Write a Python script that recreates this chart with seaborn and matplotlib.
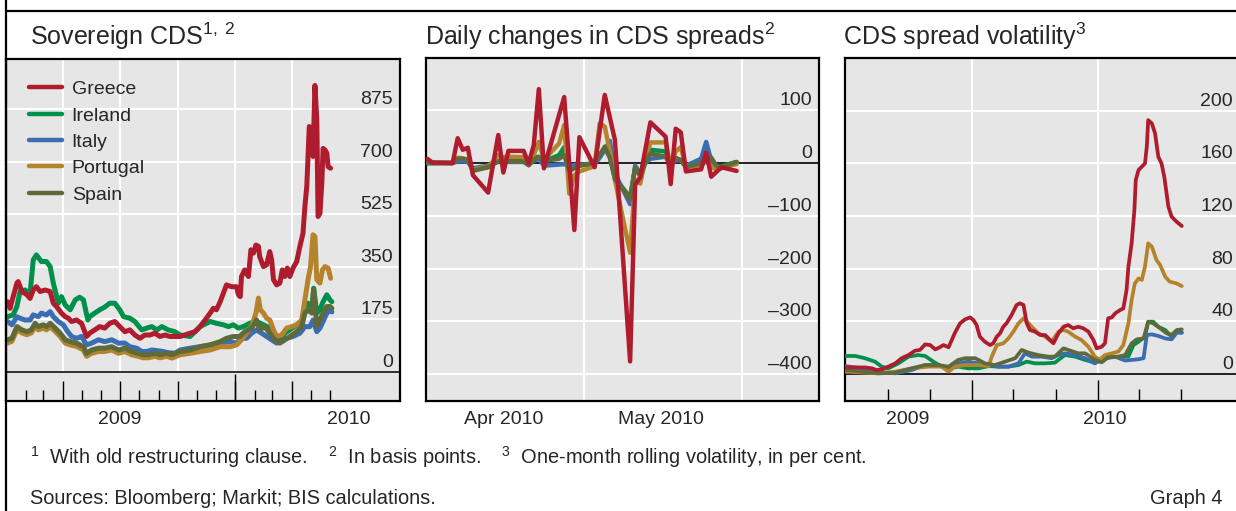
import numpy as np
import pandas as pd
import matplotlib
matplotlib.use("Agg")
import matplotlib.pyplot as plt
import matplotlib.dates as mdates
import matplotlib.transforms as mtransforms
from matplotlib.lines import Line2D
from matplotlib.ticker import FixedLocator, NullFormatter
import seaborn as sns

sns.set_theme(style="white")
plt.rcParams["font.family"] = ["Liberation Sans", "DejaVu Sans"]
plt.rcParams["mathtext.fontset"] = "custom"
plt.rcParams["mathtext.rm"] = "Liberation Sans"
plt.rcParams["mathtext.it"] = "Liberation Sans:italic"
plt.rcParams["mathtext.bf"] = "Liberation Sans:bold"

# ---------------------------------------------------------------- data
COUNTRIES = ["Greece", "Ireland", "Italy", "Portugal", "Spain"]
DRAW_ORDER = ["Ireland", "Italy", "Portugal", "Spain", "Greece"]
COLORS = {"Greece": "#AE1C2D", "Ireland": "#00904A", "Italy": "#3B6DB3",
          "Portugal": "#B5832B", "Spain": "#5F6A3B"}

# Panel 1: sovereign CDS, basis points; days counted from 2009-01-01
p1_base = "2009-01-01"
p1_greece_days = [2, 6, 17, 19, 25, 33, 38, 43, 48, 54, 62, 70, 75, 80, 88, 94, 99, 104, 112, 120,
                  128, 133, 141, 149, 157, 165, 173, 181, 189, 197, 205, 213, 221, 229, 237, 245, 253, 261, 277, 293,
                  301, 309, 317, 325, 330, 335, 341, 346, 351, 359, 367, 370, 373, 375, 380, 386, 390, 394, 398, 402,
                  404, 410, 415, 420, 423, 426, 431, 436, 440, 444, 448, 452, 457, 463, 468, 473, 476, 479, 483, 487,
                  489, 492, 495, 497, 500, 503, 505, 508, 511, 513, 517]
p1_greece_vals = [234, 212, 296, 301, 268, 257, 245, 273, 284, 268, 273, 268, 229, 218, 196, 184, 179, 168, 173, 162,
                  118, 129, 140, 151, 146, 162, 168, 151, 134, 140, 123, 112, 123, 123, 129, 118, 123, 118, 118, 129,
                  134, 151, 173, 196, 212, 207, 234, 262, 290, 284, 284, 257, 251, 318, 340, 318, 407, 396, 423, 418,
                  384, 351, 357, 401, 373, 307, 290, 296, 340, 318, 346, 318, 346, 368, 418, 462, 551, 618, 818, 807,
                  718, 955, 840, 518, 529, 629, 745, 740, 729, 684, 679]
p1_ireland_days = [2, 11, 17, 22, 30, 38, 43, 48, 56, 64, 70, 75, 83, 88, 94, 102, 110, 117, 123, 130,
                   133, 141, 149, 157, 165, 173, 181, 187, 197, 205, 216, 224, 232, 240, 248, 258, 269, 277, 293, 309,
                   325, 335, 346, 354, 362, 370, 378, 388, 399, 410, 420, 428, 436, 444, 452, 463, 471, 476, 481, 487,
                   490, 495, 500, 505, 511, 516, 519]
p1_ireland_vals = [184, 190, 218, 268, 273, 262, 373, 390, 368, 368, 351, 296, 229, 251, 223, 207, 240, 249, 240, 173,
                   184, 196, 207, 216, 229, 229, 207, 184, 179, 168, 140, 146, 151, 140, 151, 140, 134, 123, 118, 151,
                   168, 162, 157, 151, 157, 146, 151, 162, 168, 157, 146, 118, 107, 129, 140, 157, 168, 218, 229, 207,
                   279, 196, 207, 234, 257, 240, 234]
p1_italy_days = [2, 9, 17, 22, 30, 38, 43, 51, 56, 64, 70, 75, 83, 91, 96, 104, 112, 120, 128, 136,
                 147, 157, 168, 179, 189, 197, 208, 216, 224, 232, 240, 250, 258, 269, 277, 293, 309, 325, 341, 357,
                 367, 375, 383, 391, 399, 407, 415, 423, 431, 439, 447, 457, 468, 476, 484, 489, 495, 500, 505, 511,
                 516, 519]
p1_italy_vals = [168, 157, 184, 179, 173, 173, 190, 184, 196, 190, 201, 184, 168, 157, 140, 118, 112, 118, 90, 96,
                 107, 101, 107, 96, 96, 84, 79, 68, 68, 73, 71, 68, 64, 62, 73, 79, 84, 90, 96, 101,
                 96, 112, 112, 129, 140, 129, 118, 107, 96, 101, 112, 118, 129, 151, 151, 173, 134, 146, 168, 196,
                 207, 200]
p1_portugal_days = [2, 9, 17, 25, 33, 40, 46, 51, 59, 64, 70, 78, 86, 94, 102, 112, 123, 128, 136, 147,
                    157, 168, 179, 189, 200, 210, 218, 226, 237, 245, 256, 264, 277, 293, 309, 325, 341, 357, 367, 375,
                    383, 391, 398, 402, 405, 410, 415, 420, 426, 431, 439, 447, 455, 463, 471, 476, 481, 485, 489, 492,
                    495, 500, 504, 508, 513, 517]
p1_portugal_vals = [96, 102, 140, 130, 124, 130, 150, 140, 146, 140, 150, 135, 118, 96, 90, 85, 73, 52, 62, 68,
                    68, 73, 62, 68, 57, 52, 47, 47, 52, 47, 52, 46, 57, 62, 68, 73, 84, 84, 90, 107,
                    129, 151, 196, 246, 207, 196, 179, 173, 140, 118, 123, 146, 151, 157, 173, 240, 307, 351, 457, 451,
                    307, 296, 340, 351, 346, 312]
p1_spain_days = [2, 9, 17, 25, 33, 40, 46, 51, 59, 64, 70, 78, 86, 94, 102, 112, 123, 128, 136, 147,
                 157, 168, 179, 189, 200, 210, 218, 226, 237, 245, 256, 264, 277, 293, 309, 325, 341, 351, 362, 372,
                 380, 391, 399, 404, 412, 420, 428, 436, 444, 452, 463, 471, 476, 481, 487, 490, 495, 500, 505, 511,
                 516, 519]
p1_spain_vals = [107, 112, 151, 140, 134, 140, 162, 151, 157, 151, 162, 146, 129, 107, 101, 96, 84, 62, 73, 79,
                 79, 84, 73, 79, 68, 62, 57, 57, 62, 57, 62, 57, 68, 73, 84, 90, 101, 112, 118, 118,
                 134, 146, 173, 140, 151, 129, 107, 96, 107, 118, 134, 151, 196, 207, 196, 273, 151, 173, 196, 218,
                 218, 212]
p1_yticks = [0, 175, 350, 525, 700, 875]
p1_year_labels = ["2009", "2010"]
p1_year_label_dates = ["2009-07-01", "2010-07-01"]

# Panel 2: daily changes in CDS spreads, basis points
p2_dates = ["2010-03-31", "2010-04-01", "2010-04-02", "2010-04-05", "2010-04-06", "2010-04-07", "2010-04-08",
            "2010-04-09", "2010-04-12", "2010-04-13", "2010-04-14", "2010-04-15", "2010-04-16", "2010-04-19",
            "2010-04-20", "2010-04-21", "2010-04-22", "2010-04-23", "2010-04-26", "2010-04-27", "2010-04-28",
            "2010-04-29", "2010-04-30", "2010-05-03", "2010-05-04", "2010-05-05", "2010-05-06", "2010-05-07",
            "2010-05-10", "2010-05-11", "2010-05-12", "2010-05-13", "2010-05-14", "2010-05-17", "2010-05-18",
            "2010-05-19", "2010-05-20", "2010-05-21", "2010-05-24", "2010-05-25", "2010-05-26", "2010-05-27",
            "2010-05-28", "2010-05-31"]
p2_ireland = [0, 0, 0, 0, 6, 6, 5, -12, -8, -2, 4, 4, 4, 4, -4, 13, 10, 3, 15, 30, -12, -8, -5, 0, 12, 28, 12,
              -28, -65, -8, -22, 5, 25, 22, -3, 8, 6, -6, 2, 5, 8, -6, -6, 2]
p2_italy = [0, 0, 0, 0, 3, 3, 2, -10, -5, 0, 2, 2, 2, 2, -3, 4, 8, -5, -3, -2, -6, -4, -3, -2, 10, 25, 42,
            -20, -78, -5, -20, 0, 8, 12, -2, 5, 5, -5, 8, 40, 5, -10, -10, 0]
p2_portugal = [0, 0, 0, 0, 10, 9, 7, -13, -6, 3, 15, 11, 12, 11, -4, 15, 40, 6, 37, 72, -58, -23, -16, -6, 75, 69,
               22, -32, -170, -32, -39, 6, 39, 39, -4, 22, 30, -7, -4, 6, -7, -12, -8, -2]
p2_spain = [0, 0, 0, 0, 8, 8, 6, -15, -8, -2, 3, 3, 3, 3, -4, 6, 12, 4, 8, 15, -15, -10, -5, 0, 15, 31, 10,
            -30, -68, -8, -25, 0, 18, 12, -5, 10, 5, -8, 0, 2, 10, -5, -8, 2]
p2_greece_dates = ["2010-03-31", "2010-04-01", "2010-04-05", "2010-04-06", "2010-04-07", "2010-04-08", "2010-04-09",
                   "2010-04-12", "2010-04-14", "2010-04-15", "2010-04-16", "2010-04-19", "2010-04-20", "2010-04-21",
                   "2010-04-22", "2010-04-23", "2010-04-27", "2010-04-29", "2010-04-30", "2010-05-03", "2010-05-05",
                   "2010-05-07", "2010-05-10", "2010-05-11", "2010-05-12", "2010-05-14", "2010-05-17", "2010-05-18",
                   "2010-05-19", "2010-05-20", "2010-05-21", "2010-05-24", "2010-05-25", "2010-05-26", "2010-05-28",
                   "2010-05-31"]
p2_greece = [8, 1, 0, 47, 25, 29, -23, -56, 53, -18, 23, 23, -1, 34, 140, -10, 125, -127, 49, -8, 129, 44, -376,
             -41, -27, 77, 50, -40, 65, 58, -16, -12, 20, -26, -8, -15]
p2_yticks = [100, 0, -100, -200, -300, -400]
p2_month_labels = ["Apr 2010", "May 2010"]
p2_month_label_dates = ["2010-04-15", "2010-05-16"]

# Panel 3: CDS spread volatility, per cent; days counted from 2008-07-01
p3_base = "2008-07-01"
p3_greece_days = [0, 21, 42, 57, 68, 79, 93, 108, 122, 137, 151, 162, 173, 184, 195, 205, 213, 224, 231, 238,
                  249, 260, 271, 278, 285, 292, 303, 314, 321, 329, 336, 343, 350, 361, 372, 379, 387, 394, 401, 412,
                  423, 434, 445, 452, 463, 474, 484, 495, 506, 517, 528, 539, 546, 557, 564, 571, 579, 586, 597, 604,
                  611, 615, 622, 628, 631, 637, 644, 651, 655, 658, 666, 673, 680, 687, 693, 698, 702, 709, 720, 731]
p3_greece_vals = [5.0, 5.0, 5.0, 4.3, 3.0, 3.6, 5.6, 8.0, 12.0, 14.4, 17.7, 18.3, 22.5, 22.0, 18.7, 20.3, 22.0, 20.3,
                  25.8, 31.4, 38.5, 41.5, 43.0, 41.0, 37.2, 28.4, 24.5, 22.0, 23.3, 28.4, 30.9, 35.9, 38.5, 44.8,
                  52.4, 53.7, 52.4, 38.5, 33.4, 32.2, 29.6, 29.6, 25.8, 23.3, 30.9, 35.9, 37.2, 34.7, 35.9, 34.7,
                  32.2, 25.8, 19.5, 20.7, 23.3, 42.3, 43.0, 46.0, 48.6, 49.8, 63.8, 81.5, 99.2, 124.5, 147.3, 154.9,
                  157.4, 159.9, 172.6, 192.8, 190.3, 182.7, 165.0, 159.9, 149.8, 137.1, 127.0, 119.4, 115.6, 112.4]
p3_ireland_days = [0, 21, 42, 64, 79, 93, 115, 137, 158, 173, 191, 209, 224, 245, 267, 289, 311, 332, 354, 376,
                   394, 412, 434, 455, 477, 499, 521, 542, 557, 579, 600, 615, 626, 637, 651, 658, 669, 680, 695, 709,
                   720, 731]
p3_ireland_vals = [13.7, 13.7, 12.0, 9.4, 5.6, 4.3, 8.1, 13.2, 14.4, 13.7, 9.4, 5.6, 4.3, 5.6, 4.3, 4.3, 6.0, 5.6,
                   5.6, 6.8, 9.4, 8.1, 8.1, 8.6, 14.4, 13.2, 10.7, 8.6, 12.0, 12.7, 13.2, 13.2, 22.0, 24.5, 28.4,
                   39.7, 39.7, 35.9, 33.4, 28.4, 32.2, 31.4]
p3_italy_days = [0, 35, 71, 108, 144, 173, 202, 224, 245, 267, 289, 311, 332, 354, 376, 390, 405, 426, 448, 463,
                 477, 499, 521, 542, 564, 586, 608, 622, 637, 648, 655, 666, 680, 695, 709, 720, 731]
p3_italy_vals = [6.0, 4.3, 1.8, 0.5, 3.0, 6.8, 6.8, 4.3, 8.1, 9.4, 8.1, 6.8, 5.6, 5.6, 8.1, 15.7, 13.2, 13.2, 12.0,
                 14.4, 15.7, 14.4, 12.0, 8.1, 12.0, 13.2, 10.2, 10.7, 11.2, 12.0, 29.6, 30.1, 28.9, 27.0, 26.3,
                 31.4, 31.4]
p3_portugal_days = [0, 71, 108, 144, 180, 209, 224, 238, 260, 289, 311, 318, 329, 343, 354, 365, 376, 387, 398, 408,
                    419, 434, 448, 463, 474, 484, 499, 513, 528, 542, 553, 564, 579, 593, 604, 615, 622, 629, 637,
                    644, 651, 658, 666, 676, 684, 695, 705, 720, 731]
p3_portugal_vals = [1.8, 0.5, 1.8, 4.3, 5.6, 5.6, 1.8, 5.6, 6.8, 6.8, 6.0, 13.2, 22.0, 23.3, 27.0, 32.2, 38.5, 42.3,
                    38.5, 34.7, 30.9, 28.4, 24.5, 32.2, 33.4, 32.2, 28.4, 25.8, 20.7, 13.2, 10.7, 14.4, 15.7, 17.0,
                    22.0, 38.5, 56.2, 68.8, 72.6, 71.4, 81.5, 99.2, 96.7, 86.6, 82.8, 73.9, 70.1, 68.8, 66.8]
p3_spain_days = [0, 35, 71, 108, 144, 173, 202, 224, 245, 260, 282, 303, 325, 347, 369, 383, 398, 419, 441, 455,
                 474, 484, 506, 521, 542, 557, 571, 593, 608, 622, 633, 648, 658, 669, 684, 698, 709, 720, 731]
p3_spain_vals = [3.0, 1.8, 0.5, 1.0, 4.3, 6.8, 6.8, 5.6, 10.7, 12.0, 12.0, 8.1, 6.8, 9.4, 12.0, 18.3, 16.2, 14.4,
                 13.2, 13.2, 19.5, 18.3, 15.7, 15.7, 10.7, 8.9, 12.7, 13.2, 14.4, 23.3, 26.3, 27.0, 39.7, 38.5,
                 34.7, 30.9, 29.6, 33.4, 33.9]
p3_yticks = [0, 40, 80, 120, 160, 200]
p3_year_labels = ["2009", "2010"]
p3_year_label_dates = ["2008-11-14", "2010-01-16"]

# ---------------------------------------------------------------- helpers
def from_days(base, days):
    return pd.Timestamp(base) + pd.to_timedelta(np.asarray(days, dtype=float), unit="D")


def long_frame(parts):
    frames = [pd.DataFrame({"date": d, "value": v, "country": c}) for c, (d, v) in parts.items()]
    return pd.concat(frames, ignore_index=True)


df1 = long_frame({
    "Greece": (from_days(p1_base, p1_greece_days), p1_greece_vals),
    "Ireland": (from_days(p1_base, p1_ireland_days), p1_ireland_vals),
    "Italy": (from_days(p1_base, p1_italy_days), p1_italy_vals),
    "Portugal": (from_days(p1_base, p1_portugal_days), p1_portugal_vals),
    "Spain": (from_days(p1_base, p1_spain_days), p1_spain_vals),
})
p2d = pd.to_datetime(p2_dates)
df2 = long_frame({
    "Greece": (pd.to_datetime(p2_greece_dates), p2_greece),
    "Ireland": (p2d, p2_ireland),
    "Italy": (p2d, p2_italy),
    "Portugal": (p2d, p2_portugal),
    "Spain": (p2d, p2_spain),
})
df3 = long_frame({
    "Greece": (from_days(p3_base, p3_greece_days), p3_greece_vals),
    "Ireland": (from_days(p3_base, p3_ireland_days), p3_ireland_vals),
    "Italy": (from_days(p3_base, p3_italy_days), p3_italy_vals),
    "Portugal": (from_days(p3_base, p3_portugal_days), p3_portugal_vals),
    "Spain": (from_days(p3_base, p3_spain_days), p3_spain_vals),
})

W, H = 1236, 511
fig = plt.figure(figsize=(W / 100, H / 100), dpi=100)


def box(l, t, r, b):
    return [l / W, 1 - b / H, (r - l) / W, (b - t) / H]


ax1 = fig.add_axes(box(6, 59, 400, 401))
ax2 = fig.add_axes(box(426, 58, 819, 401))
ax3 = fig.add_axes(box(845, 58, 1240, 401))

GRID = "white"
BG = "#E6E6E6"
FS = 14
FN = 14.4


def style_axes(ax):
    ax.set_facecolor(BG)
    for s in ax.spines.values():
        s.set_visible(True)
        s.set_color("black")
        s.set_linewidth(1.6)
    ax.set_xlabel("")
    ax.set_ylabel("")
    ax.set_yticks([])


def right_labels(ax, ticks, fmt):
    trans = mtransforms.blended_transform_factory(ax.transAxes, ax.transData) + \
        mtransforms.ScaledTranslation(-5 / 72, 3.6 / 72, fig.dpi_scale_trans)
    for t in ticks:
        ax.text(1, t, fmt(t), transform=trans, ha="right", va="baseline", fontsize=FS, zorder=5)


def bottom_labels(ax, dates, labels):
    trans = mtransforms.blended_transform_factory(ax.transData, ax.transAxes)
    for d, lab in zip(dates, labels):
        ax.text(mdates.date2num(pd.Timestamp(d)), -0.053, lab, transform=trans,
                ha="center", va="center", fontsize=FS)


def draw_lines(ax, df, lw):
    sns.lineplot(data=df, x="date", y="value", hue="country", hue_order=DRAW_ORDER,
                 palette=COLORS, estimator=None, linewidth=lw, legend=False, ax=ax, zorder=3)


def dash(v):
    return ("\u2013" + str(abs(v))) if v < 0 else str(v)


# ---------------------------------------------------------------- panel 1
draw_lines(ax1, df1, 3.6)
style_axes(ax1)
b1 = pd.Timestamp(p1_base)
ax1.set_xlim(b1 - pd.Timedelta(days=0.4), b1 + pd.Timedelta(days=627.6))
ax1.set_ylim(-97, 1043)
for v in p1_yticks[1:]:
    ax1.axhline(v, color=GRID, lw=1.5, zorder=1)
qgrid = pd.date_range("2009-04-01", "2010-04-01", freq="QS")
ax1.vlines(mdates.date2num(qgrid), 0, 1043, colors=GRID, lw=1.5, zorder=1)
ax1.axhline(0, color="black", lw=1.1, zorder=2)
months = pd.date_range("2009-02-01", "2010-06-01", freq="MS")
quarters = pd.date_range("2009-04-01", "2010-04-01", freq="QS")
ax1.xaxis.set_major_locator(FixedLocator(mdates.date2num(quarters)))
ax1.xaxis.set_minor_locator(FixedLocator(mdates.date2num(months)))
ax1.xaxis.set_major_formatter(NullFormatter())
ax1.xaxis.set_minor_formatter(NullFormatter())
ax1.tick_params(axis="x", which="major", direction="in", length=14.5, width=1.0, color="black",
                bottom=True, top=False)
ax1.tick_params(axis="x", which="minor", direction="in", length=8, width=1.0, color="black",
                bottom=True, top=False)
ax1.vlines(mdates.date2num(pd.Timestamp("2010-01-01")), -97, -7, colors="black", lw=1.0, zorder=4)
right_labels(ax1, p1_yticks, str)
bottom_labels(ax1, p1_year_label_dates, p1_year_labels)
handles = [Line2D([0], [0], color=COLORS[c], lw=3.2) for c in COUNTRIES]
ax1.legend(handles, COUNTRIES, loc="upper left", bbox_to_anchor=(0.058, 0.937), frameon=False,
           fontsize=FS, handlelength=1.7, handletextpad=0.5, labelspacing=0.45,
           borderaxespad=0, borderpad=0)

# ---------------------------------------------------------------- panel 2
draw_lines(ax2, df2, 3.2)
style_axes(ax2)
x2 = pd.Timestamp("2010-03-30 18:00")
ax2.set_xlim(x2, x2 + pd.Timedelta(days=77.5))
ax2.set_ylim(-451, 199)
for v in p2_yticks:
    if v != 0:
        ax2.axhline(v, color=GRID, lw=1.5, zorder=1)
m2 = pd.to_datetime(["2010-05-01", "2010-06-01"])
for d in m2:
    ax2.axvline(mdates.date2num(d), color=GRID, lw=1.5, zorder=1)
ax2.axhline(0, color="black", lw=1.2, zorder=2)
ax2.xaxis.set_major_locator(FixedLocator(mdates.date2num(m2)))
ax2.xaxis.set_major_formatter(NullFormatter())
ax2.xaxis.set_minor_locator(FixedLocator([]))
ax2.tick_params(axis="x", which="major", direction="in", length=11, width=1.1, color="black",
                bottom=True, top=False)
right_labels(ax2, p2_yticks, dash)
bottom_labels(ax2, p2_month_label_dates, p2_month_labels)

# ---------------------------------------------------------------- panel 3
draw_lines(ax3, df3, 2.7)
style_axes(ax3)
ax3.spines["right"].set_visible(False)
b3 = pd.Timestamp(p3_base)
ax3.set_xlim(b3 - pd.Timedelta(days=1.1), b3 + pd.Timedelta(days=857.6))
ax3.set_ylim(-20.5, 240)
for v in p3_yticks[1:]:
    ax3.axhline(v, color=GRID, lw=1.5, zorder=1)
g3 = pd.to_datetime(["2009-04-01", "2010-01-01"])
ax3.vlines(mdates.date2num(g3), 0, 240, colors=GRID, lw=1.5, zorder=1)
ax3.axhline(0, color="black", lw=1.2, zorder=2)
q3 = pd.date_range("2008-10-01", "2010-07-01", freq="QS")
ax3.xaxis.set_major_locator(FixedLocator(mdates.date2num(g3)))
ax3.xaxis.set_minor_locator(FixedLocator(mdates.date2num(q3)))
ax3.xaxis.set_major_formatter(NullFormatter())
ax3.xaxis.set_minor_formatter(NullFormatter())
ax3.tick_params(axis="x", which="major", direction="in", length=15, width=1.0, color="black",
                bottom=True, top=False)
ax3.tick_params(axis="x", which="minor", direction="in", length=8.5, width=1.0, color="black",
                bottom=True, top=False)
right_labels(ax3, p3_yticks, str)
bottom_labels(ax3, p3_year_label_dates, p3_year_labels)

# ---------------------------------------------------------------- titles, frame, notes
fig.text(30 / W, 1 - 45 / H, r"Sovereign CDS$^{1,\ 2}$", fontsize=18, va="baseline")
fig.text(425 / W, 1 - 45 / H, r"Daily changes in CDS spreads$^{2}$", fontsize=18, va="baseline")
fig.text(843 / W, 1 - 45 / H, r"CDS spread volatility$^{3}$", fontsize=18, va="baseline")

fig.add_artist(Line2D([6 / W, 1], [1 - 11 / H, 1 - 11 / H], color="black", lw=1.6,
                      transform=fig.transFigure))
fig.add_artist(Line2D([6 / W, 6 / W], [0, 1], color="black", lw=1.6, transform=fig.transFigure))

fig.text(30 / W, 1 - 464 / H, r"$^{1}$  With old restructuring clause.", fontsize=FN, va="baseline")
fig.text(328 / W, 1 - 464 / H, r"$^{2}$  In basis points.", fontsize=FN, va="baseline")
fig.text(501 / W, 1 - 464 / H, r"$^{3}$  One-month rolling volatility, in per cent.", fontsize=FN,
         va="baseline")
fig.text(30 / W, 1 - 504 / H, "Sources: Bloomberg; Markit; BIS calculations.", fontsize=FN, va="baseline")
fig.text(1222 / W, 1 - 504 / H, "Graph 4", fontsize=FN, va="baseline", ha="right")

fig.savefig("out.png", dpi=100)
